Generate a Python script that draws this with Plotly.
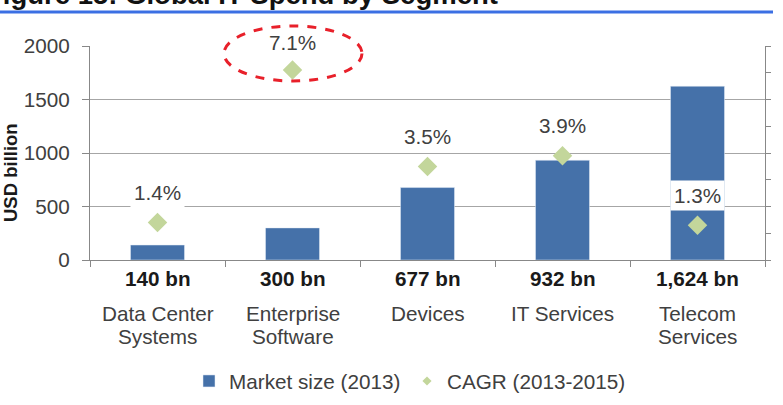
import plotly.graph_objects as go

categories = ["Data Center Systems", "Enterprise Software", "Devices", "IT Services", "Telecom Services"]
name_lines = [["Data Center", "Systems"], ["Enterprise", "Software"], ["Devices"], ["IT Services"], ["Telecom", "Services"]]
size_labels = ["140 bn", "300 bn", "677 bn", "932 bn", "1,624 bn"]
market_size = [140, 300, 677, 932, 1624]
cagr = [1.4, 7.1, 3.5, 3.9, 1.3]
cagr_labels = ["1.4%", "7.1%", "3.5%", "3.9%", "1.3%"]
y_ticks = [0, 500, 1000, 1500, 2000]

FONT = "Arial, Liberation Sans, sans-serif"
BAR = "#4571A9"
DIA = "#C3D69B"
TXT = "#404040"
FS = 20.7

W, H = 783, 405
L, R, T, B = 90, 18, 46, 145
PW, PH = W - L - R, H - T - B


def px(xp):
    return (xp - L) / PW


def py(yp):
    return (H - B - yp) / PH


fig = go.Figure()
fig.add_trace(go.Bar(x=categories, y=market_size, marker_color=BAR, width=0.4,
                     name="Market size (2013)", showlegend=True))
fig.add_trace(go.Scatter(x=categories, y=cagr, yaxis="y2", mode="markers",
                         marker=dict(symbol="diamond", size=15, color=DIA),
                         name="CAGR (2013-2015)", showlegend=False, cliponaxis=False))
# legend proxy with smaller symbol
fig.add_trace(go.Scatter(x=[None], y=[None], yaxis="y2", mode="markers",
                         marker=dict(symbol="diamond", size=7, color=DIA),
                         name="CAGR (2013-2015)", showlegend=True))

ann = []
for c, v, t in zip(categories, cagr, cagr_labels):
    big = v > 6
    ann.append(dict(x=c, y=v, xref="x", yref="y2", text=t, showarrow=False,
                    yshift=28 if big else 30, bgcolor="white", borderpad=1 if big else 3,
                    font=dict(family=FONT, size=FS, color=TXT)))
for i, (c, s, lines) in enumerate(zip(categories, size_labels, name_lines)):
    ann.append(dict(x=c, y=0, xref="x", yref="paper", text="<b>" + s + "</b>", showarrow=False,
                    yanchor="middle", yshift=-18, font=dict(family=FONT, size=FS, color="#1a1a1a")))
    for j, ln in enumerate(lines):
        ann.append(dict(x=c, y=0, xref="x", yref="paper", text=ln, showarrow=False,
                        yanchor="middle", yshift=-53 - 23 * j, font=dict(family=FONT, size=FS, color=TXT)))
ann.append(dict(x=px(10), y=py(173), xref="paper", yref="paper", text="<b>USD billion</b>",
                textangle=-90, showarrow=False, xanchor="center", yanchor="middle",
                font=dict(family=FONT, size=18.5, color="#1a1a1a")))
ann.append(dict(x=px(-16), y=py(-5.5), xref="paper", yref="paper",
                text="<b>Figure 15: Global IT Spend by Segment</b>", showarrow=False,
                xanchor="left", yanchor="middle", font=dict(family=FONT, size=27.5, color="#111111")))

shapes = [
    dict(type="line", xref="paper", yref="paper", x0=px(0), x1=px(773), y0=py(12), y1=py(12),
         line=dict(color="#3B6FE3", width=3)),
    dict(type="circle", xref="paper", yref="paper", x0=px(224), x1=px(362), y0=py(81), y1=py(26),
         line=dict(color="#E8202A", width=3, dash="dash")),
]

fig.update_layout(
    width=W, height=H, margin=dict(l=L, r=R, t=T, b=B, autoexpand=False),
    paper_bgcolor="white", plot_bgcolor="white",
    font=dict(family=FONT, size=FS, color=TXT),
    xaxis=dict(type="category", showticklabels=False, ticks="outside", tickson="boundaries",
               ticklen=6, tickcolor="#888888", showline=True, linecolor="#888888", linewidth=1,
               showgrid=False),
    yaxis=dict(range=[0, 2000], tickvals=y_ticks, ticks="outside", ticklen=7, tickcolor="#888888",
               showline=True, linecolor="#888888", linewidth=1, gridcolor="#A6A6A6", gridwidth=1,
               zeroline=False, ticklabelstandoff=8, tickfont=dict(family=FONT, size=FS, color=TXT)),
    yaxis2=dict(range=[0, 8], dtick=1, overlaying="y", side="right", showticklabels=False,
                ticks="outside", ticklen=5, tickcolor="#888888", showline=True, linecolor="#888888",
                showgrid=False, zeroline=False),
    legend=dict(orientation="h", x=px(189), xanchor="left", y=py(381), yanchor="middle",
                font=dict(family=FONT, size=FS, color=TXT), entrywidth=173, entrywidthmode="pixels",
                bgcolor="rgba(0,0,0,0)"),
    bargap=0.6,
    annotations=ann, shapes=shapes,
)

fig.write_html("out.html")
